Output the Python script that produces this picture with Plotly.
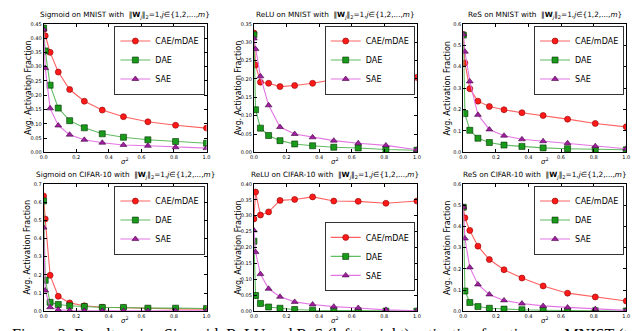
import plotly.graph_objects as go

sigma2 = [0, 0.01, 0.04, 0.09, 0.16, 0.25, 0.36, 0.49, 0.64, 0.81, 1.0]
methods = ["CAE/mDAE", "DAE", "SAE"]

# Sigmoid on MNIST
sig_mnist_cae = [0.43, 0.408, 0.350, 0.281, 0.220, 0.179, 0.148, 0.125, 0.107, 0.095, 0.085]
sig_mnist_dae = [0.435, 0.355, 0.235, 0.155, 0.111, 0.086, 0.065, 0.053, 0.044, 0.038, 0.032]
sig_mnist_sae = [0.43, 0.295, 0.154, 0.094, 0.062, 0.044, 0.034, 0.026, 0.023, 0.018, 0.015]
# ReLU on MNIST
relu_mnist_cae = [0.325, 0.238, 0.191, 0.188, 0.179, 0.182, 0.188, 0.198, 0.198, 0.207, 0.204]
relu_mnist_dae = [0.32, 0.116, 0.066, 0.046, 0.032, 0.023, 0.018, 0.014, 0.012, 0.008, 0.006]
relu_mnist_sae = [0.31, 0.281, 0.207, 0.128, 0.069, 0.050, 0.041, 0.032, 0.025, 0.019, 0.007]
# ReS on MNIST
res_mnist_cae = [0.55, 0.417, 0.297, 0.239, 0.214, 0.199, 0.185, 0.172, 0.155, 0.135, 0.119]
res_mnist_dae = [0.547, 0.181, 0.103, 0.066, 0.046, 0.034, 0.028, 0.021, 0.017, 0.014, 0.012]
res_mnist_sae = [0.55, 0.470, 0.331, 0.175, 0.107, 0.078, 0.061, 0.052, 0.043, 0.029, 0.017]
# Sigmoid on CIFAR-10
sig_cifar_cae = [0.633, 0.507, 0.198, 0.083, 0.047, 0.031, 0.023, 0.020, 0.016, 0.014, 0.013]
sig_cifar_dae = [0.606, 0.171, 0.050, 0.038, 0.031, 0.027, 0.022, 0.022, 0.018, 0.018, 0.016]
sig_cifar_sae = [0.46, 0.115, 0.023, 0.009, 0.005, 0.004, 0.004, 0.003, 0.003, 0.003, 0.003]
# ReLU on CIFAR-10
relu_cifar_cae = [0.29, 0.374, 0.302, 0.312, 0.348, 0.351, 0.359, 0.346, 0.345, 0.339, 0.346]
relu_cifar_dae = [0.22, 0.050, 0.025, 0.014, 0.010, 0.006, 0.004, 0.003, 0.002, 0.001, 0.001]
relu_cifar_sae = [0.254, 0.186, 0.117, 0.071, 0.046, 0.030, 0.022, 0.015, 0.011, 0.005, 0.002]
# ReS on CIFAR-10
res_cifar_cae = [0.49, 0.440, 0.381, 0.307, 0.244, 0.196, 0.157, 0.120, 0.086, 0.068, 0.049]
res_cifar_dae = [0.49, 0.096, 0.042, 0.023, 0.015, 0.011, 0.008, 0.006, 0.005, 0.003, 0.002]
res_cifar_sae = [0.49, 0.343, 0.207, 0.127, 0.080, 0.052, 0.037, 0.026, 0.019, 0.011, 0.005]

panel_titles = ["Sigmoid on MNIST", "ReLU on MNIST", "ReS on MNIST",
                "Sigmoid on CIFAR-10", "ReLU on CIFAR-10", "ReS on CIFAR-10"]
panel_data = [
    (sig_mnist_cae, sig_mnist_dae, sig_mnist_sae),
    (relu_mnist_cae, relu_mnist_dae, relu_mnist_sae),
    (res_mnist_cae, res_mnist_dae, res_mnist_sae),
    (sig_cifar_cae, sig_cifar_dae, sig_cifar_sae),
    (relu_cifar_cae, relu_cifar_dae, relu_cifar_sae),
    (res_cifar_cae, res_cifar_dae, res_cifar_sae),
]
y_ranges = [(0, 0.45), (0, 0.35), (0, 0.6), (0, 0.7), (0, 0.40), (0, 0.6)]
y_dticks = [0.05, 0.05, 0.1, 0.1, 0.05, 0.1]
y_fmt = [".2f", ".2f", ".1f", ".1f", ".2f", ".1f"]
x_ticks = [0.0, 0.2, 0.4, 0.6, 0.8, 1.0]
caption = "Figure 3: Results using Sigmoid, ReLU and ReS (left to right) activation functions on MNIST (top"

W, H = 640, 331
col_px = [(32, 197), (245, 410), (457, 622)]
row_px = [(13, 144), (176, 306)]

line_colors = ["rgba(255,80,80,0.9)", "rgba(80,180,80,0.9)", "rgba(225,110,225,0.95)"]
marker_colors = ["#ff1a1a", "#1a9a1a", "#a020a0"]
marker_edges = ["#8b0000", "#003300", "#400040"]
symbols = ["circle", "square", "triangle-up"]

fig = go.Figure()
layout = dict(width=W, height=H, margin=dict(l=0, r=0, t=0, b=0),
              paper_bgcolor="white", plot_bgcolor="white",
              font=dict(family="DejaVu Sans", color="black"))
annotations = []

def px_x(p):
    return p / W

def px_y(p):
    return 1 - p / H

for i in range(6):
    r, c = divmod(i, 3)
    n = i + 1
    xa = "x" if n == 1 else f"x{n}"
    ya = "y" if n == 1 else f"y{n}"
    lg = "legend" if n == 1 else f"legend{n}"
    x0, x1 = col_px[c]
    t0, t1 = row_px[r]
    dom_x = [px_x(x0), px_x(x1)]
    dom_y = [px_y(t1), px_y(t0)]
    for k in range(3):
        fig.add_trace(go.Scatter(
            x=sigma2, y=panel_data[i][k], mode="lines+markers", name=methods[k],
            xaxis=xa, yaxis=ya, legend=lg,
            line=dict(color=line_colors[k], width=1.1),
            marker=dict(symbol=symbols[k], size=6, color=marker_colors[k],
                        line=dict(color=marker_edges[k], width=0.6))))
    axis_common = dict(showline=True, linecolor="black", linewidth=1, mirror="ticks",
                       ticks="inside", ticklen=3, tickcolor="black", showgrid=False,
                       zeroline=False, tickfont=dict(size=5, family="DejaVu Sans"))
    layout["xaxis" if n == 1 else f"xaxis{n}"] = dict(
        domain=dom_x, range=[0, 1.0], tickvals=x_ticks,
        ticktext=[f"{v:.1f}" for v in x_ticks], anchor=ya, **axis_common)
    lo, hi = y_ranges[i]
    nt = round((hi - lo) / y_dticks[i])
    yt = [round(lo + j * y_dticks[i], 3) for j in range(nt + 1)]
    layout["yaxis" if n == 1 else f"yaxis{n}"] = dict(
        domain=dom_y, range=[lo, hi], tickvals=yt,
        ticktext=[format(v, y_fmt[i]) for v in yt], anchor=xa, **axis_common)
    # legend placement
    if i < 3:
        leg_top_px = 15
    elif i == 4:
        leg_top_px = 215
    else:
        leg_top_px = 178
    layout[lg] = dict(
        x=px_x(x1 - 2), xanchor="right",
        y=px_y(leg_top_px), yanchor="top",
        bgcolor="white", bordercolor="black", borderwidth=0.8,
        font=dict(size=8, family="DejaVu Sans"), tracegroupgap=0,
        itemwidth=30)
    # panel title
    annotations.append(dict(
        x=(dom_x[0] + dom_x[1]) / 2, y=px_y(t0 - 1), xref="paper", yref="paper",
        xanchor="center", yanchor="bottom", showarrow=False,
        text=panel_titles[i] + " with  ‖<b>W</b><sub><i>j</i></sub>‖<sub>2</sub>=1,<i>j</i>∈{1,2,...,<i>m</i>}",
        font=dict(size=7.3, family="DejaVu Sans")))
    # x axis title
    annotations.append(dict(
        x=(dom_x[0] + dom_x[1]) / 2, y=px_y(t1 + 9), xref="paper", yref="paper",
        xanchor="center", yanchor="middle", showarrow=False,
        text="<i>σ</i><sup>2</sup>", font=dict(size=7)))
    # y axis title
    annotations.append(dict(
        x=px_x(x0 - 16), y=(dom_y[0] + dom_y[1]) / 2, xref="paper", yref="paper",
        xanchor="center", yanchor="middle", showarrow=False, textangle=-90,
        text="Avg. Activation Fraction", font=dict(size=8)))

annotations.append(dict(
    x=0.5, y=px_y(319), xref="paper", yref="paper", xanchor="center", yanchor="top",
    showarrow=False, text=caption,
    font=dict(size=16, family="Liberation Serif")))

layout["annotations"] = annotations
fig.update_layout(**layout)
fig.write_html("out.html")
